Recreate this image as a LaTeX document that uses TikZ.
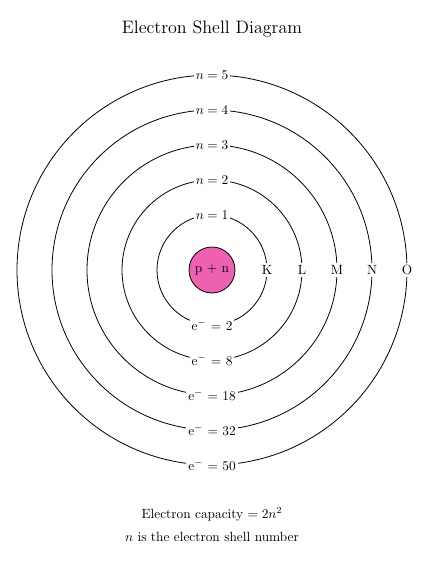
\documentclass[tikz,border=0pt]{standalone}
\usepackage{tikz}
\usetikzlibrary{calc}

\definecolor{nucleuspink}{RGB}{238,96,176}

\tikzset{
  shelllabel/.style={fill=white, inner sep=1.5pt, font=\normalsize},
}

\begin{document}
\begin{tikzpicture}[x=0.75pt, y=-0.75pt]
\useasboundingbox (0,0) rectangle (435,563);
\coordinate (C) at (212,270);
\node[font=\fontsize{13.5}{16}\selectfont] (title) at (212,29) {Electron Shell Diagram};
% shells
\foreach \r/\n/\e/\s in {55/1/2/K, 90/2/8/L, 125/3/18/M, 160/4/32/N, 195/5/50/O}{
  \draw[black, line width=0.6pt] (C) circle (\r);
  \node[shelllabel] (top\n) at ($(C)+(0,-\r)$) {$n = \n$};
  \node[shelllabel] (bot\n) at ($(C)+(0,\r)$) {e$^{-}$ $=$ \e};
  \node[shelllabel] (side\n) at ($(C)+(\r,0)$) {\s};
}
\draw[fill=nucleuspink, line width=0.6pt] (C) circle (23);
\node (nucleus) at (C) {p $+$ n};
\node (capacity) at (212,514) {Electron capacity $= 2n^2$};
\node (shellnum) at (212,537) {$n$ is the electron shell number};
\end{tikzpicture}
\end{document}
